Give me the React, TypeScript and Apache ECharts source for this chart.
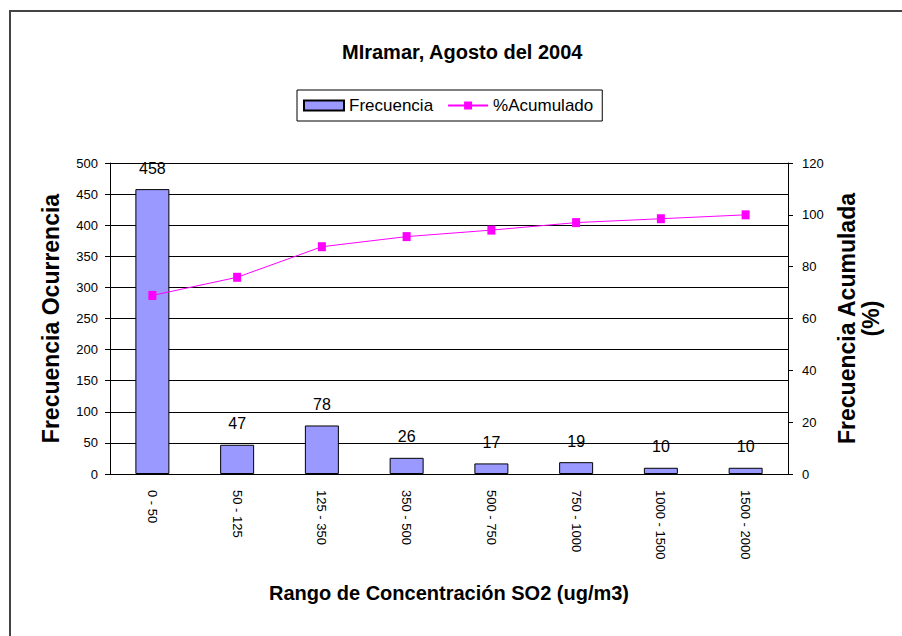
import React, { useEffect, useRef } from "react";
import * as echarts from "echarts";

const categories = ["0 - 50", "50 - 125", "125 - 350", "350 - 500", "500 - 750", "750 - 1000", "1000 - 1500", "1500 - 2000"];
const frecuencia = [458, 47, 78, 26, 17, 19, 10, 10];
const acumulado = [68.9, 75.9, 87.7, 91.6, 94.1, 97.0, 98.5, 100];

const FONT = "Liberation Sans, Arial, sans-serif";

export default function App() {
  const ref = useRef<HTMLDivElement>(null);
  useEffect(() => {
    if (!ref.current) return;
    const chart = echarts.init(ref.current, null, { renderer: "svg" });
    chart.setOption({
      animation: false,
      backgroundColor: "#ffffff",
      textStyle: { fontFamily: FONT, color: "#000" },
      title: {
        text: "MIramar, Agosto del 2004",
        left: 342,
        top: 42,
        padding: 0,
        textStyle: { fontFamily: FONT, fontWeight: "bold", fontSize: 20, color: "#000" },
      },
      legend: {
        top: 90,
        left: 297,
        borderColor: "#000",
        borderWidth: 1,
        padding: [7, 9, 7, 6],
        itemGap: 14,
        itemWidth: 40,
        itemHeight: 10,
        textStyle: { fontFamily: FONT, fontSize: 17, color: "#000" },
        data: [
          { name: "Frecuencia", icon: "rect" },
          { name: "%Acumulado" },
        ],
      },
      graphic: [
        { type: "line", shape: { x1: 9, y1: 11, x2: 902, y2: 11 }, style: { stroke: "#444", lineWidth: 2 } },
        { type: "line", shape: { x1: 10, y1: 10, x2: 10, y2: 636 }, style: { stroke: "#444", lineWidth: 2 } },
      ],
      grid: { left: 110, right: 114, top: 163, bottom: 162 },
      xAxis: {
        type: "category",
        data: categories,
        name: "Rango de Concentración SO2 (ug/m3)",
        nameLocation: "middle",
        nameGap: 109,
        nameTextStyle: { fontFamily: FONT, fontWeight: "bold", fontSize: 20, color: "#000" },
        axisLine: { lineStyle: { color: "#000", width: 1 } },
        axisTick: { lineStyle: { color: "#000" }, length: 5 },
        axisLabel: { rotate: -90, fontFamily: FONT, fontSize: 13, color: "#000", margin: 16, padding: [26, 0, 0, 0] },
      },
      yAxis: [
        {
          type: "value",
          min: 0,
          max: 500,
          interval: 50,
          name: "Frecuencia Ocurrencia",
          nameLocation: "middle",
          nameRotate: 90,
          nameGap: 48,
          nameTextStyle: { fontFamily: FONT, fontWeight: "bold", fontSize: 23, color: "#000" },
          axisLine: { show: true, lineStyle: { color: "#000", width: 1 } },
          axisTick: { show: true, length: 5, lineStyle: { color: "#000" } },
          axisLabel: { fontFamily: FONT, fontSize: 13, color: "#000", margin: 12 },
          splitLine: { show: true, lineStyle: { color: "#000", width: 1 } },
        },
        {
          type: "value",
          min: 0,
          max: 120,
          interval: 20,
          position: "right",
          name: "Frecuencia Acumulada\n(%)",
          nameLocation: "middle",
          nameRotate: 90,
          nameGap: 46,
          nameTextStyle: { fontFamily: FONT, fontWeight: "bold", fontSize: 23, color: "#000", lineHeight: 24, align: "center" },
          axisLine: { show: true, lineStyle: { color: "#000", width: 1 } },
          axisTick: { show: true, length: 5, lineStyle: { color: "#000" } },
          axisLabel: { fontFamily: FONT, fontSize: 13, color: "#000", margin: 14 },
          splitLine: { show: false },
        },
      ],
      series: [
        {
          name: "Frecuencia",
          type: "bar",
          yAxisIndex: 0,
          data: frecuencia,
          barWidth: 34,
          itemStyle: { color: "#9999FF", borderColor: "#000", borderWidth: 1 },
          label: { show: true, position: "top", fontFamily: FONT, fontSize: 16, color: "#000", distance: 13 },
        },
        {
          name: "%Acumulado",
          type: "line",
          yAxisIndex: 1,
          data: acumulado,
          symbol: "rect",
          symbolSize: [8, 9],
          itemStyle: { color: "#FF00FF" },
          lineStyle: { color: "#FF00FF", width: 1 },
        },
      ],
    });
    return () => chart.dispose();
  }, []);
  return <div ref={ref} style={{ position: "fixed", left: 0, top: 0, width: 902, height: 636 }} />;
}
